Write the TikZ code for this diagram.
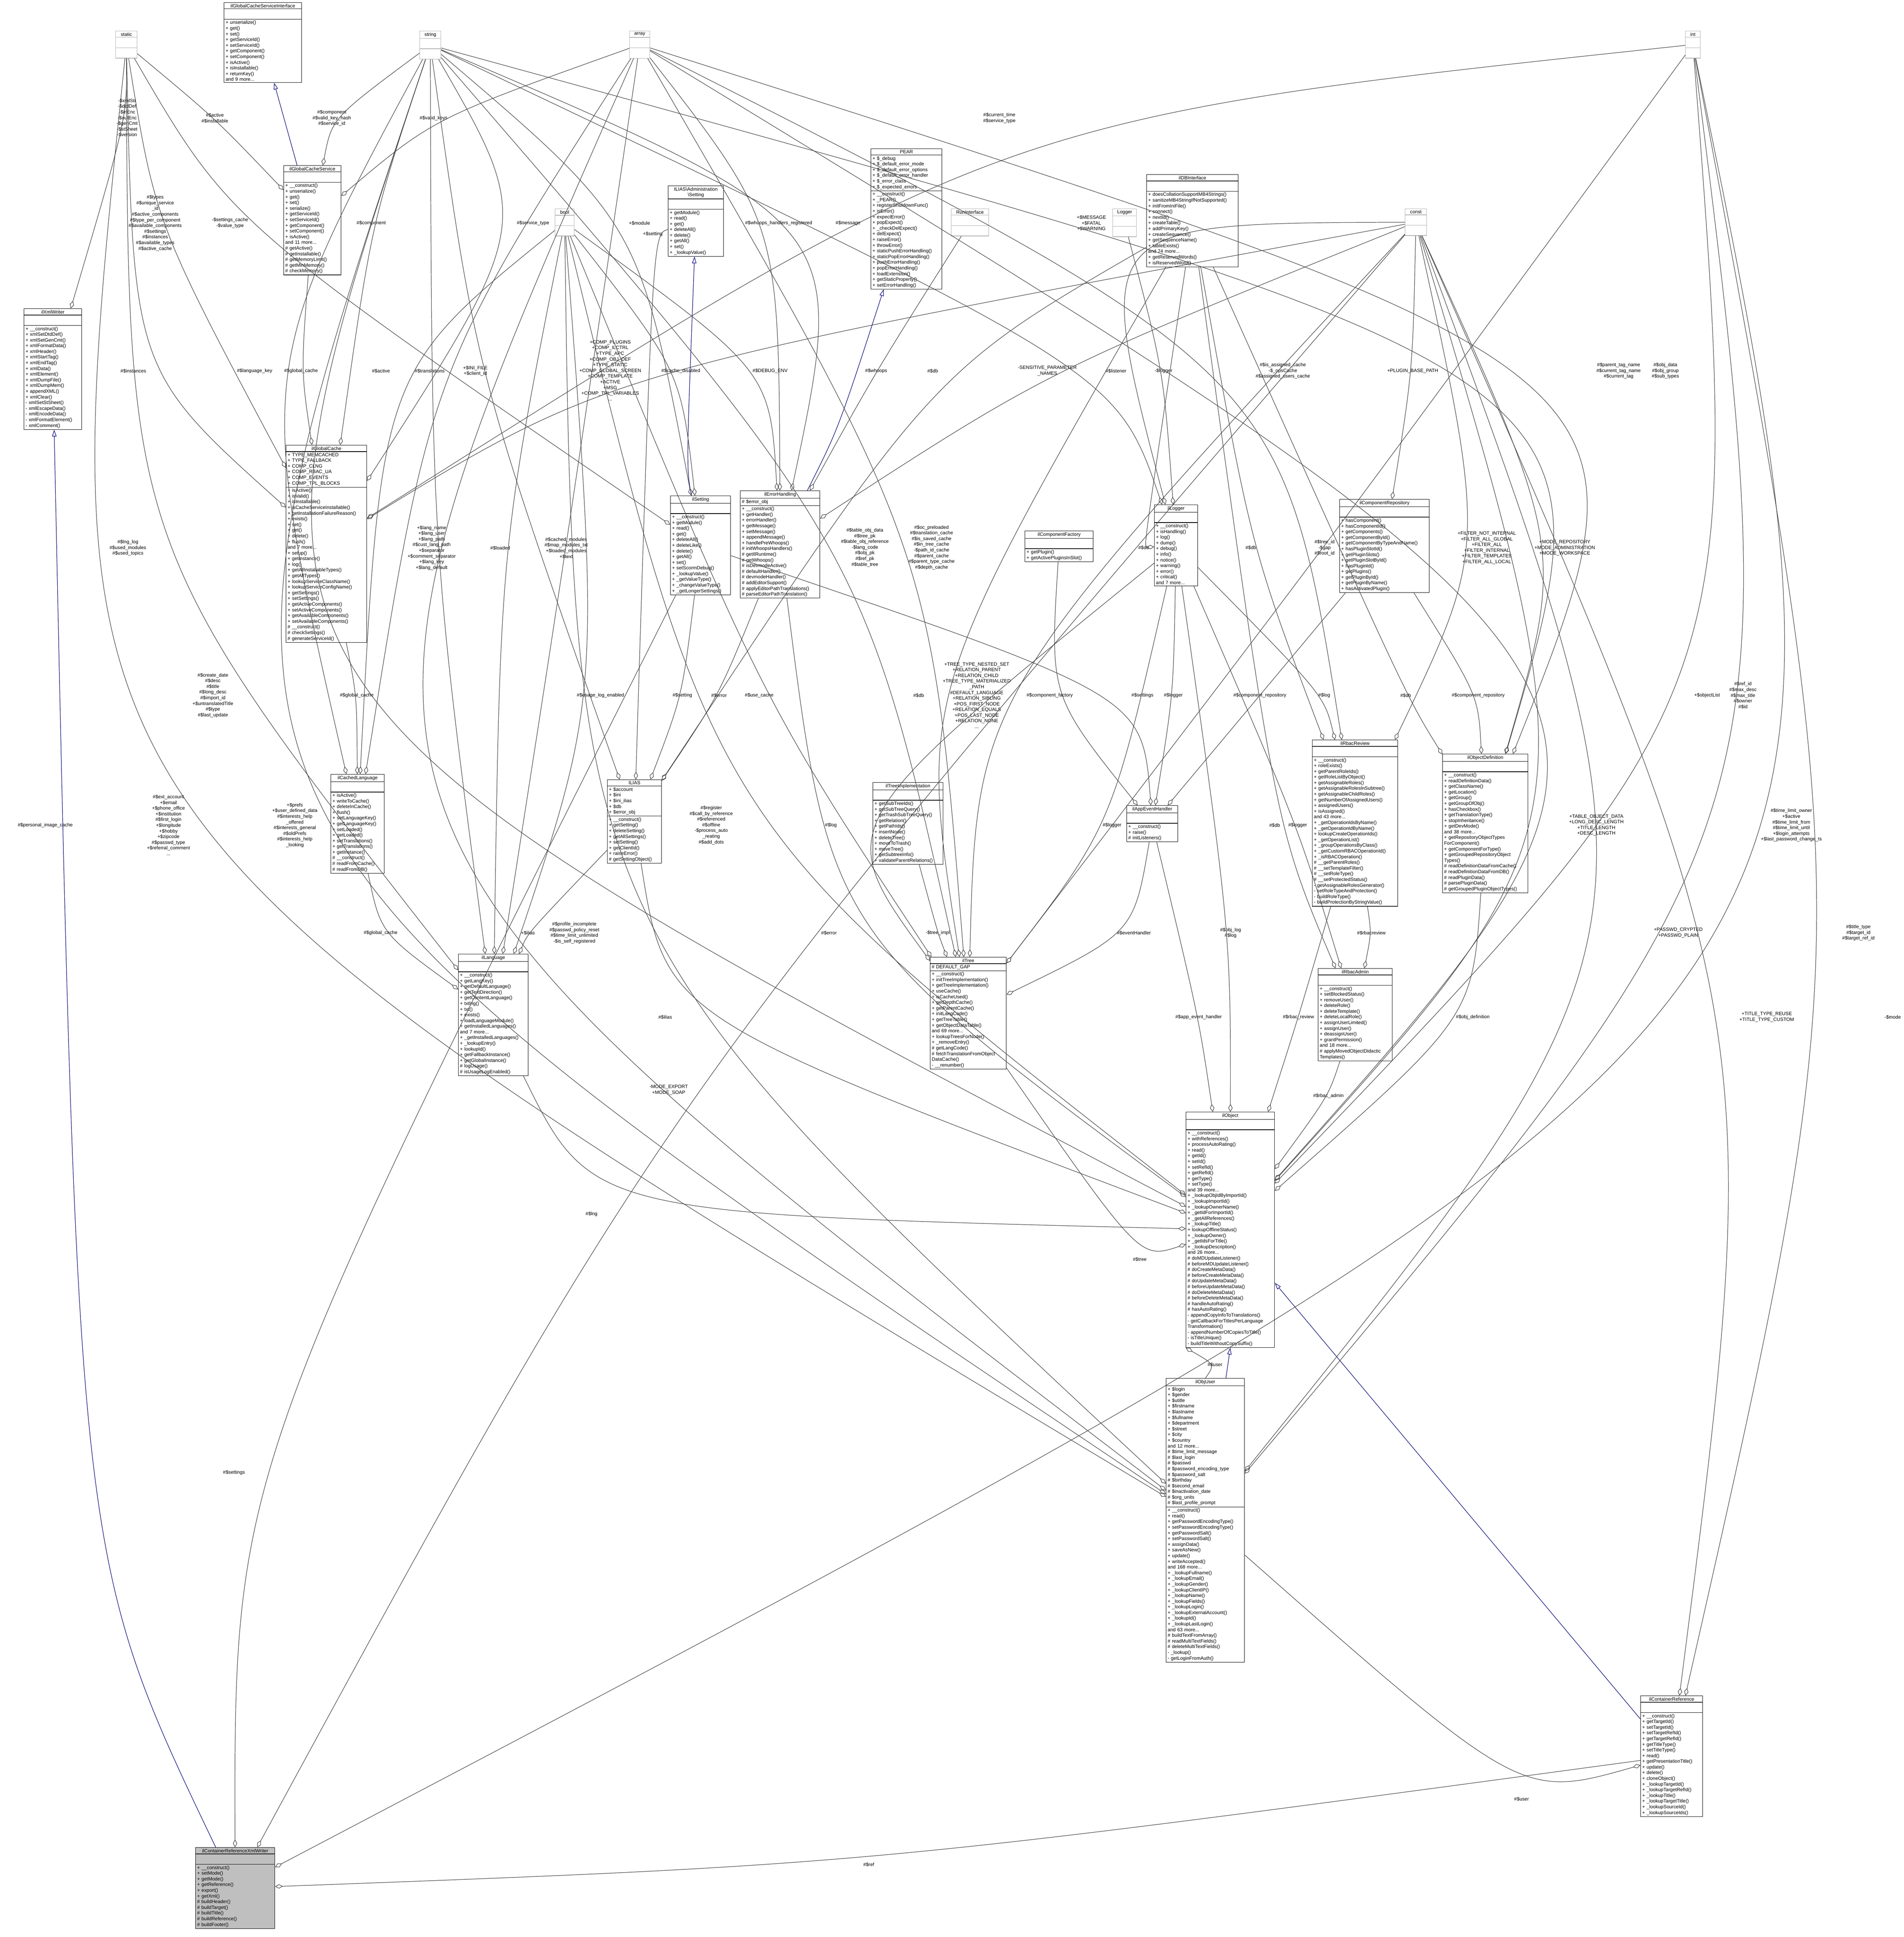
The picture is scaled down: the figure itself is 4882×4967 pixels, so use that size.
\documentclass[tikz,border=0pt]{standalone}
\usepackage{fontspec}
\setmainfont{Liberation Sans}
\usetikzlibrary{shapes.multipart,arrows.meta}

\tikzset{
  umlbox/.style={rectangle split, rectangle split parts=3, draw=black, line width=0.35pt,
    anchor=north west, align=left, inner xsep=0.04cm, inner ysep=0.03cm,
    font=\fontsize{3.5}{4.15}\selectfont},
  typebox/.style={rectangle split, rectangle split parts=3, draw=black!30, line width=0.35pt,
    anchor=north west, align=center, inner xsep=0.03cm, inner ysep=0.03cm,
    font=\fontsize{3.5}{4.15}\selectfont},
  lbl/.style={align=center, inner sep=0pt, font=\fontsize{3.5}{4.15}\selectfont},
  agg/.style={draw=black!75, line width=0.35pt, {Diamond[open,length=0.2cm,width=0.11cm]}-},
  inh/.style={draw=blue!45!black, line width=0.35pt, {Triangle[open,length=0.17cm,width=0.11cm]}-}
}
\newcommand{\emp}{\rule[-1pt]{0pt}{5.5pt}}
\newcommand{\ttl}[1]{\makebox[\linewidth][c]{#1}}

\begin{document}
\begin{tikzpicture}[x=0.01cm, y=-0.01cm]
\useasboundingbox (0,0) rectangle (4882,4967);

% plain types
\node (static) [typebox, text width=0.49cm] at (296,79) {static\nodepart{two}\emp\nodepart{three}\emp};
\node (string) [typebox, text width=0.48cm] at (1076,79) {string\nodepart{two}\emp\nodepart{three}\emp};
\node (array) [typebox, text width=0.46cm] at (1614,79) {array\nodepart{two}\emp\nodepart{three}\emp};
\node (int) [typebox, text width=0.32cm] at (4322,79) {int\nodepart{two}\emp\nodepart{three}\emp};
\node (bool) [typebox, text width=0.43cm] at (1423,535) {bool\nodepart{two}\emp\nodepart{three}\emp};
\node (runif) [typebox, text width=0.90cm] at (2439,535) {RunInterface\nodepart{two}\emp\nodepart{three}\emp};
\node (logger) [typebox, text width=0.55cm] at (2853,535) {Logger\nodepart{two}\emp\nodepart{three}\emp};
\node (const) [typebox, text width=0.49cm] at (3603,535) {const\nodepart{two}\emp\nodepart{three}\emp};

% classes
\node (gcsif) [umlbox, text width=1.91cm] at (574,6) {\ttl{ilGlobalCacheServiceInterface}\nodepart{two}\emp\nodepart{three}
+ unserialize()\\+ get()\\+ set()\\+ getServiceId()\\+ setServiceId()\\+ getComponent()\\+ setComponent()\\+ isActive()\\+ isInstallable()\\+ returnKey()\\and 9 more...};

\node (gcs) [umlbox, text width=1.39cm] at (727,424) {\ttl{ilGlobalCacheService}\nodepart{two}\emp\nodepart{three}
+ \_\_construct()\\+ unserialize()\\+ get()\\+ set()\\+ serialize()\\+ getServiceId()\\+ setServiceId()\\+ getComponent()\\+ setComponent()\\+ isActive()\\and 11 more...\\\# getActive()\\\# getInstallable()\\\# getMemoryLimit()\\\# getMinMemory()\\\# checkMemory()};

\node (xmlw) [umlbox, text width=1.40cm] at (61,791) {\ttl{ilXmlWriter}\nodepart{two}\emp\nodepart{three}
+ \_\_construct()\\+ xmlSetDtdDef()\\+ xmlSetGenCmt()\\+ xmlFormatData()\\+ xmlHeader()\\+ xmlStartTag()\\+ xmlEndTag()\\+ xmlData()\\+ xmlElement()\\+ xmlDumpFile()\\+ xmlDumpMem()\\+ appendXML()\\+ xmlClear()\\- xmlSetStSheet()\\- xmlEscapeData()\\- xmlEncodeData()\\- xmlFormatElement()\\- xmlComment()};

\node (gcache) [umlbox, text width=1.99cm] at (733,1141) {\ttl{ilGlobalCache}\nodepart{two}
+ TYPE\_MEMCACHED\\+ TYPE\_FALLBACK\\+ COMP\_CLNG\\+ COMP\_RBAC\_UA\\+ COMP\_EVENTS\\+ COMP\_TPL\_BLOCKS\nodepart{three}
+ isActive()\\+ isValid()\\+ isInstallable()\\+ isCacheServiceInstallable()\\+ getInstallationFailureReason()\\+ exists()\\+ set()\\+ get()\\+ delete()\\+ flush()\\and 7 more...\\+ setup()\\+ getInstance()\\+ log()\\+ getAllInstallableTypes()\\+ getAllTypes()\\+ lookupServiceClassName()\\+ lookupServiceConfigName()\\+ getSettings()\\+ setSettings()\\+ getActiveComponents()\\+ setActiveComponents()\\+ getAvailableComponents()\\+ setAvailableComponents()\\\# \_\_construct()\\\# checkSettings()\\\# generateServiceId()};

\node (clang) [umlbox, text width=1.29cm] at (848,1985) {\ttl{ilCachedLanguage}\nodepart{two}\emp\nodepart{three}
+ isActive()\\+ writeToCache()\\+ deleteInCache()\\+ flush()\\+ setLanguageKey()\\+ getLanguageKey()\\+ setLoaded()\\+ getLoaded()\\+ setTranslations()\\+ getTranslations()\\+ getInstance()\\\# \_\_construct()\\\# readFromCache()\\\# readFromDB()};

\node (lang) [umlbox, text width=1.71cm] at (1175,2446) {\ttl{ilLanguage}\nodepart{two}\emp\nodepart{three}
+ \_\_construct()\\+ getLangKey()\\+ getDefaultLanguage()\\+ getTextDirection()\\+ getContentLanguage()\\+ txtlng()\\+ txt()\\+ exists()\\+ loadLanguageModule()\\+ getInstalledLanguages()\\and 7 more...\\+ \_getInstalledLanguages()\\+ \_lookupEntry()\\+ lookupId()\\+ getFallbackInstance()\\+ getGlobalInstance()\\\# logUsage()\\\# isUsageLogEnabled()};

\node (ilias) [umlbox, text width=1.31cm] at (1557,1999) {\ttl{ILIAS}\nodepart{two}
+ \$account\\+ \$ini\\+ \$ini\_ilias\\+ \$db\\+ \$error\_obj\nodepart{three}
+ \_\_construct()\\+ getSetting()\\+ deleteSetting()\\+ getAllSettings()\\+ setSetting()\\+ getClientId()\\+ raiseError()\\\# getSettingObject()};

\node (admset) [umlbox, text width=1.34cm] at (1713,476) {\ttl{ILIAS\textbackslash Administration}\\\ttl{\textbackslash Setting}\nodepart{two}\emp\nodepart{three}
+ getModule()\\+ read()\\+ get()\\+ deleteAll()\\+ delete()\\+ getAll()\\+ set()\\+ \_lookupValue()};

\node (pear) [umlbox, text width=1.74cm] at (2233,381) {\ttl{PEAR}\nodepart{two}
+ \$\_debug\\+ \$\_default\_error\_mode\\+ \$\_default\_error\_options\\+ \$\_default\_error\_handler\\+ \$\_error\_class\\+ \$\_expected\_errors\nodepart{three}
+ \_\_construct()\\+ \_PEAR()\\+ registerShutdownFunc()\\+ isError()\\+ expectError()\\+ popExpect()\\+ \_checkDelExpect()\\+ delExpect()\\+ raiseError()\\+ throwError()\\+ staticPushErrorHandling()\\+ staticPopErrorHandling()\\+ pushErrorHandling()\\+ popErrorHandling()\\+ loadExtension()\\+ getStaticProperty()\\+ setErrorHandling()};

\node (dbif) [umlbox, text width=2.27cm] at (2940,447) {\ttl{ilDBInterface}\nodepart{two}\emp\nodepart{three}
+ doesCollationSupportMB4Strings()\\+ sanitizeMB4StringIfNotSupported()\\+ initFromIniFile()\\+ connect()\\+ nextId()\\+ createTable()\\+ addPrimaryKey()\\+ createSequence()\\+ getSequenceName()\\+ tableExists()\\and 74 more...\\+ getReservedWords()\\+ isReservedWord()};

\node (setting) [umlbox, text width=1.46cm] at (1719,1271) {\ttl{ilSetting}\nodepart{two}\emp\nodepart{three}
+ \_\_construct()\\+ getModule()\\+ read()\\+ get()\\+ deleteAll()\\+ deleteLike()\\+ delete()\\+ getAll()\\+ set()\\+ setScormDebug()\\+ \_lookupValue()\\+ \_getValueType()\\+ \_changeValueType()\\+ \_getLongerSettings()};

\node (errh) [umlbox, text width=1.96cm] at (1898,1258) {\ttl{ilErrorHandling}\nodepart{two}
\# \$error\_obj\nodepart{three}
+ \_\_construct()\\+ getHandler()\\+ errorHandler()\\+ getMessage()\\+ setMessage()\\+ appendMessage()\\+ handlePreWhoops()\\\# initWhoopsHandlers()\\\# getIlRuntime()\\\# getWhoops()\\\# isDevmodeActive()\\\# defaultHandler()\\\# devmodeHandler()\\\# addEditorSupport()\\\# applyEditorPathTranslations()\\\# parseEditorPathTranslation()};

\node (cfact) [umlbox, text width=1.67cm] at (2628,1361) {\ttl{ilComponentFactory}\nodepart{two}\emp\nodepart{three}
+ getPlugin()\\+ getActivePluginsInSlot()};

\node (ilogger) [umlbox, text width=1.03cm] at (2960,1294) {\ttl{ilLogger}\nodepart{two}\emp\nodepart{three}
+ \_\_construct()\\+ isHandling()\\+ log()\\+ dump()\\+ debug()\\+ info()\\+ notice()\\+ warning()\\+ error()\\+ critical()\\and 7 more...};

\node (timpl) [umlbox, text width=1.72cm] at (2238,2006) {\ttl{ilTreeImplementation}\nodepart{two}\emp\nodepart{three}
+ getSubTreeIds()\\+ getSubTreeQuery()\\+ getTrashSubTreeQuery()\\+ getRelation()\\+ getPathIds()\\+ insertNode()\\+ deleteTree()\\+ moveToTrash()\\+ moveTree()\\+ getSubtreeInfo()\\+ validateParentRelations()};

\node (appev) [umlbox, text width=1.23cm] at (2889,2065) {\ttl{ilAppEventHandler}\nodepart{two}\emp\nodepart{three}
+ \_\_construct()\\+ raise()\\\# initListeners()};

\node (tree) [umlbox, text width=1.87cm] at (2385,2454) {\ttl{ilTree}\nodepart{two}
\# DEFAULT\_GAP\nodepart{three}
+ \_\_construct()\\+ initTreeImplementation()\\+ getTreeImplementation()\\+ useCache()\\+ isCacheUsed()\\+ getDepthCache()\\+ getParentCache()\\+ initLangCode()\\+ getTreeTable()\\+ getObjectDataTable()\\and 69 more...\\+ lookupTreesForNode()\\+ \_removeEntry()\\\# getLangCode()\\\# fetchTranslationFromObject\\DataCache()\\- \_\_renumber()};

\node (crepo) [umlbox, text width=2.22cm] at (3435,1280) {\ttl{ilComponentRepository}\nodepart{two}\emp\nodepart{three}
+ hasComponent()\\+ hasComponentId()\\+ getComponents()\\+ getComponentById()\\+ getComponentByTypeAndName()\\+ hasPluginSlotId()\\+ getPluginSlots()\\+ getPluginSlotById()\\+ hasPluginId()\\+ getPlugins()\\+ getPluginById()\\+ getPluginByName()\\+ hasActivatedPlugin()};

\node (rbrev) [umlbox, text width=2.11cm] at (3365,1897) {\ttl{ilRbacReview}\nodepart{two}\emp\nodepart{three}
+ \_\_construct()\\+ roleExists()\\+ getParentRoleIds()\\+ getRoleListByObject()\\+ getAssignableRoles()\\+ getAssignableRolesInSubtree()\\+ getAssignableChildRoles()\\+ getNumberOfAssignedUsers()\\+ assignedUsers()\\+ isAssigned()\\and 43 more...\\+ \_getOperationIdsByName()\\+ \_getOperationIdByName()\\+ lookupCreateOperationIds()\\+ \_getOperationList()\\+ \_groupOperationsByClass()\\+ \_getCustomRBACOperationId()\\+ \_isRBACOperation()\\\# \_\_getParentRoles()\\\# \_\_setTemplateFilter()\\\# \_\_setRoleType()\\\# \_\_setProtectedStatus()\\- getAssignableRolesGenerator()\\- setRoleTypeAndProtection()\\- buildRoleType()\\- buildProtectionByStringValue()};

\node (objdef) [umlbox, text width=2.11cm] at (3699,1933) {\ttl{ilObjectDefinition}\nodepart{two}\emp\nodepart{three}
+ \_\_construct()\\+ readDefinitionData()\\+ getClassName()\\+ getLocation()\\+ getGroup()\\+ getGroupOfObj()\\+ hasCheckbox()\\+ getTranslationType()\\+ stopInheritance()\\+ getDevMode()\\and 38 more...\\+ getRepositoryObjectTypes\\ForComponent()\\+ getComponentForType()\\+ getGroupedRepositoryObject\\Types()\\\# readDefinitionDataFromCache()\\\# readDefinitionDataFromDB()\\\# readPluginData()\\\# parsePluginData()\\\# getGroupedPluginObjectTypes()};

\node (rbadm) [umlbox, text width=1.82cm] at (3380,2483) {\ttl{ilRbacAdmin}\nodepart{two}\emp\nodepart{three}
+ \_\_construct()\\+ setBlockedStatus()\\+ removeUser()\\+ deleteRole()\\+ deleteTemplate()\\+ deleteLocalRole()\\+ assignUserLimited()\\+ assignUser()\\+ deassignUser()\\+ grantPermission()\\and 18 more...\\\# applyMovedObjectDidactic\\Templates()};

\node (obj) [umlbox, text width=2.19cm] at (3041,2851) {\ttl{ilObject}\nodepart{two}\emp\nodepart{three}
+ \_\_construct()\\+ withReferences()\\+ processAutoRating()\\+ read()\\+ getId()\\+ setId()\\+ setRefId()\\+ getRefId()\\+ getType()\\+ setType()\\and 39 more...\\+ \_lookupObjIdByImportId()\\+ \_lookupImportId()\\+ \_lookupOwnerName()\\+ \_getIdForImportId()\\+ \_getAllReferences()\\+ \_lookupTitle()\\+ lookupOfflineStatus()\\+ \_lookupOwner()\\+ \_getIdsForTitle()\\+ \_lookupDescription()\\and 26 more...\\\# doMDUpdateListener()\\\# beforeMDUpdateListener()\\\# doCreateMetaData()\\\# beforeCreateMetaData()\\\# doUpdateMetaData()\\\# beforeUpdateMetaData()\\\# doDeleteMetaData()\\\# beforeDeleteMetaData()\\\# handleAutoRating()\\\# hasAutoRating()\\- appendCopyInfoToTranslations()\\- getCallbackForTitlesPerLanguage\\Transformation()\\- appendNumberOfCopiesToTitle()\\- isTitleUnique()\\- buildTitleWithoutCopySuffix()};

\node (objuser) [umlbox, text width=1.93cm] at (2990,3534) {\ttl{ilObjUser}\nodepart{two}
+ \$login\\+ \$gender\\+ \$utitle\\+ \$firstname\\+ \$lastname\\+ \$fullname\\+ \$department\\+ \$street\\+ \$city\\+ \$country\\and 12 more...\\\# \$time\_limit\_message\\\# \$last\_login\\\# \$passwd\\\# \$password\_encoding\_type\\\# \$password\_salt\\\# \$birthday\\\# \$second\_email\\\# \$inactivation\_date\\\# \$org\_units\\\# \$last\_profile\_prompt\nodepart{three}
+ \_\_construct()\\+ read()\\+ getPasswordEncodingType()\\+ setPasswordEncodingType()\\+ getPasswordSalt()\\+ setPasswordSalt()\\+ assignData()\\+ saveAsNew()\\+ update()\\+ writeAccepted()\\and 168 more...\\+ \_lookupFullname()\\+ \_lookupEmail()\\+ \_lookupGender()\\+ \_lookupClientIP()\\+ \_lookupName()\\+ \_lookupFields()\\+ \_lookupLogin()\\+ \_lookupExternalAccount()\\+ \_lookupId()\\+ \_lookupLastLogin()\\and 63 more...\\\# buildTextFromArray()\\\# readMultiTextFields()\\\# deleteMultiTextFields()\\- \_lookup()\\- getLoginFromAuth()};

\node (cref) [umlbox, text width=1.51cm] at (4207,4348) {\ttl{ilContainerReference}\nodepart{two}\emp\nodepart{three}
+ \_\_construct()\\+ getTargetId()\\+ setTargetId()\\+ setTargetRefId()\\+ getTargetRefId()\\+ getTitleType()\\+ setTitleType()\\+ read()\\+ getPresentationTitle()\\+ update()\\+ delete()\\+ cloneObject()\\+ \_lookupTargetId()\\+ \_lookupTargetRefId()\\+ \_lookupTitle()\\+ \_lookupTargetTitle()\\+ \_lookupSourceId()\\+ \_lookupSourceIds()};

\node (crefxml) [umlbox, text width=1.95cm, fill=black!25] at (501,4737) {\ttl{ilContainerReferenceXmlWriter}\nodepart{two}\emp\nodepart{three}
+ \_\_construct()\\+ setMode()\\+ getMode()\\+ getReference()\\+ export()\\+ getXml()\\\# buildHeader()\\\# buildTarget()\\\# buildTitle()\\\# buildReference()\\\# buildFooter()};

% connector labels
\node (lxml) [lbl] at (326,302) {-\$xmlStr\\-\$dtdDef\\-\$inEnc\\-\$outEnc\\-\$genCmt\\-\$stSheet\\-\$version};
\node (lact) [lbl] at (551,303) {\#\$active\\\#\$installable};
\node (lcomp) [lbl] at (851,303) {\#\$component\\\#\$valid\_key\_hash\\\#\$service\_id};
\node (lvk) [lbl] at (1112,303) {\#\$valid\_keys};
\node (lcurt) [lbl] at (2563,303) {\#\$current\_time\\\#\$service\_type};
\node (ltypes) [lbl] at (398,572) {\#\$types\\\#\$unique\_service\\\_id\\\#\$active\_components\\\#\$type\_per\_component\\\#\$available\_components\\\#\$settings\\\#\$instances\\\#\$available\_types\\\#\$active\_cache};
\node (lscache) [lbl] at (590,572) {-\$settings\_cache\\-\$value\_type};
\node (lcomp2) [lbl] at (952,572) {\#\$component};
\node (lsvc) [lbl] at (1367,572) {\#\$service\_type};
\node (lmodule) [lbl] at (1640,572) {+\$module};
\node (lsetting) [lbl] at (1674,600) {+\$setting};
\node (lwhr) [lbl] at (1997,572) {\#\$whoops\_handlers\_registered};
\node (lmsg) [lbl] at (2175,572) {\#\$message};
\node (lmf) [lbl] at (2799,572) {+\$MESSAGE\\+\$FATAL\\+\$WARNING};
\node (linst) [lbl] at (342,951) {\#\$instances};
\node (llk) [lbl] at (653,951) {\#\$language\_key};
\node (lgc1) [lbl] at (772,951) {\#\$global\_cache};
\node (lactive) [lbl] at (977,951) {\#\$active};
\node (ltrans) [lbl] at (1102,951) {\#\$translations};
\node (lini) [lbl] at (1219,951) {+\$INI\_FILE\\+\$client\_id};
\node (lconst1) [lbl] at (1565,950) {+COMP\_PLUGINS\\+COMP\_ILCTRL\\+TYPE\_APC\\+COMP\_OBJ\_DEF\\+TYPE\_STATIC\\+COMP\_GLOBAL\_SCREEN\\+COMP\_TEMPLATE\\+ACTIVE\\+MSG\\+COMP\_TPL\_VARIABLES\\...};
\node (lcdis) [lbl] at (1746,951) {\#\$cache\_disabled};
\node (ldebug) [lbl] at (1975,951) {\#\$DEBUG\_ENV};
\node (lwhoops) [lbl] at (2247,951) {\#\$whoops};
\node (ldb1) [lbl] at (2392,951) {\#\$db};
\node (lsens) [lbl] at (2686,951) {-SENSITIVE\_PARAMETER\\\_NAMES};
\node (llist) [lbl] at (2862,951) {\#\$listener};
\node (llogger1) [lbl] at (2984,951) {-\$logger};
\node (lasg) [lbl] at (3290,951) {\#\$is\_assigned\_cache\\-\$\_opsCache\\\#\$assigned\_users\_cache};
\node (lplug) [lbl] at (3623,951) {+PLUGIN\_BASE\_PATH};
\node (lptag) [lbl] at (4151,951) {\#\$parent\_tag\_name\\\#\$current\_tag\_name\\\#\$current\_tag};
\node (lobjd) [lbl] at (4271,951) {\#\$obj\_data\\\#\$obj\_group\\\#\$sub\_types};
\node (llng) [lbl] at (328,1405) {\#\$lng\_log\\\#\$used\_modules\\\#\$used\_topics};
\node (llang) [lbl] at (1107,1405) {+\$lang\_name\\+\$lang\_user\\+\$lang\_path\\\#\$cust\_lang\_path\\+\$separator\\+\$comment\_separator\\+\$lang\_key\\+\$lang\_default};
\node (lloaded) [lbl] at (1283,1405) {\#\$loaded};
\node (lcached) [lbl] at (1452,1405) {\#\$cached\_modules\\\#\$map\_modules\_txt\\+\$loaded\_modules\\+\$text};
\node (ltod) [lbl] at (2218,1404) {\#\$table\_obj\_data\\\#\$tree\_pk\\\#\$table\_obj\_reference\\-\$lang\_code\\\#\$obj\_pk\\\#\$ref\_pk\\\#\$table\_tree};
\node (locp) [lbl] at (2389,1404) {\#\$oc\_preloaded\\\#\$translation\_cache\\\#\$is\_saved\_cache\\\#\$in\_tree\_cache\\-\$path\_id\_cache\\\#\$parent\_cache\\\#\$parent\_type\_cache\\\#\$depth\_cache};
\node (ldb2) [lbl] at (2933,1404) {\#\$db};
\node (ldb3) [lbl] at (3208,1404) {\#\$db};
\node (ltid) [lbl] at (3397,1405) {\#\$tree\_id\\-\$gap\\\#\$root\_id};
\node (lfilter) [lbl] at (3813,1405) {+FILTER\_NOT\_INTERNAL\\+FILTER\_ALL\_GLOBAL\\+FILTER\_ALL\\+FILTER\_INTERNAL\\+FILTER\_TEMPLATES\\+FILTER\_ALL\_LOCAL};
\node (lmoderep) [lbl] at (4013,1405) {+MODE\_REPOSITORY\\+MODE\_ADMINISTRATION\\+MODE\_WORKSPACE};
\node (lcreate) [lbl] at (546,1783) {\#\$create\_date\\\#\$desc\\\#\$title\\\#\$long\_desc\\\#\$import\_id\\+\$untranslatedTitle\\\#\$type\\\#\$last\_update};
\node (lgc2) [lbl] at (915,1783) {\#\$global\_cache};
\node (lusage) [lbl] at (1540,1783) {\#\$usage\_log\_enabled};
\node (lsetting2) [lbl] at (1750,1783) {\#\$setting};
\node (lerr1) [lbl] at (1844,1783) {\#\$error};
\node (lusec) [lbl] at (1947,1783) {\#\$use\_cache};
\node (ldb4) [lbl] at (2356,1783) {\#\$db};
\node (ltreec) [lbl] at (2505,1783) {+TREE\_TYPE\_NESTED\_SET\\+RELATION\_PARENT\\+RELATION\_CHILD\\+TREE\_TYPE\_MATERIALIZED\\\_PATH\\\#DEFAULT\_LANGUAGE\\+RELATION\_SIBLING\\+POS\_FIRST\_NODE\\+RELATION\_EQUALS\\+POS\_LAST\_NODE\\+RELATION\_NONE\\...};
\node (lcf) [lbl] at (2692,1783) {\#\$component\_factory};
\node (lsets) [lbl] at (2930,1783) {\#\$settings};
\node (llogger2) [lbl] at (3009,1783) {\#\$logger};
\node (lcr1) [lbl] at (3231,1783) {\#\$component\_repository};
\node (llog2) [lbl] at (3396,1783) {\#\$log};
\node (ldb6) [lbl] at (3605,1783) {\#\$db};
\node (lcr2) [lbl] at (3791,1783) {\#\$component\_repository};
\node (lobjl) [lbl] at (4378,1783) {+\$objectList};
\node (lrefid) [lbl] at (4470,1783) {\#\$ref\_id\\\#\$max\_desc\\\#\$max\_title\\\#\$owner\\\#\$id};
\node (lpers) [lbl] at (116,2116) {\#\$personal\_image\_cache};
\node (lext) [lbl] at (432,2116) {\#\$ext\_account\\+\$email\\+\$phone\_office\\+\$institution\\\#\$first\_login\\+\$longitude\\+\$hobby\\+\$zipcode\\\#\$passwd\_type\\+\$referral\_comment\\...};
\node (lprefs) [lbl] at (756,2116) {+\$prefs\\+\$user\_defined\_data\\\#\$interests\_help\\\_offered\\\#\$interests\_general\\\#\$oldPrefs\\\#\$interests\_help\\\_looking};
\node (lreg) [lbl] at (1824,2116) {\#\$register\\\#\$call\_by\_reference\\\#\$referenced\\\#\$offline\\-\$process\_auto\\\_reating\\\#\$add\_dots};
\node (llog1) [lbl] at (2131,2116) {\#\$log};
\node (llogger3) [lbl] at (2852,2116) {\#\$logger};
\node (ldb5) [lbl] at (3269,2116) {\#\$db};
\node (llogger4) [lbl] at (3328,2116) {\#\$logger};
\node (ltab) [lbl] at (4094,2116) {+TABLE\_OBJECT\_DATA\\+LONG\_DESC\_LENGTH\\+TITLE\_LENGTH\\+DESC\_LENGTH};
\node (ltlo) [lbl] at (4594,2116) {\#\$time\_limit\_owner\\+\$active\\\#\$time\_limit\_from\\\#\$time\_limit\_until\\+\$login\_attempts\\+\$last\_password\_change\_ts};
\node (lgc3) [lbl] at (976,2392) {\#\$global\_cache};
\node (lilias1) [lbl] at (1354,2392) {+\$ilias};
\node (lprof) [lbl] at (1473,2392) {\#\$profile\_incomplete\\\#\$passwd\_policy\_reset\\\#\$time\_limit\_unlimited\\-\$is\_self\_registered};
\node (lerr2) [lbl] at (2126,2392) {\#\$error};
\node (ltimpl) [lbl] at (2405,2392) {-\$tree\_impl};
\node (levh) [lbl] at (2908,2392) {\#\$eventHandler};
\node (lobjlog) [lbl] at (3156,2392) {\#\$obj\_log\\\#\$log};
\node (lrbr) [lbl] at (3517,2392) {\#\$rbacreview};
\node (lpw) [lbl] at (4304,2392) {+PASSWD\_CRYPTED\\+PASSWD\_PLAIN};
\node (ltt) [lbl] at (4766,2392) {\#\$title\_type\\\#\$target\_id\\\#\$target\_ref\_id};
\node (lilias2) [lbl] at (1706,2608) {\#\$ilias};
\node (lapp) [lbl] at (3074,2608) {\#\$app\_event\_handler};
\node (lrbrev) [lbl] at (3330,2608) {\#\$rbac\_review};
\node (lod) [lbl] at (3777,2608) {\#\$obj\_definition};
\node (ltty) [lbl] at (4531,2608) {+TITLE\_TYPE\_REUSE\\+TITLE\_TYPE\_CUSTOM};
\node (lmodeint) [lbl] at (4854,2608) {-\$mode};
\node (lmexp) [lbl] at (1715,2795) {-MODE\_EXPORT\\+MODE\_SOAP};
\node (lrbadm) [lbl] at (3407,2810) {\#\$rbac\_admin};
\node (llng2) [lbl] at (1517,3113) {\#\$lng};
\node (ltree2) [lbl] at (2923,3229) {\#\$tree};
\node (luser1) [lbl] at (3116,3499) {\#\$user};
\node (lsettings3) [lbl] at (600,3776) {\#\$settings};
\node (luser2) [lbl] at (3902,4613) {\#\$user};
\node (lref) [lbl] at (2228,4781) {\#\$ref};

% inheritance
\draw[inh] (gcsif) -- (gcs);
\draw[inh] (admset) .. controls (1760,1200) .. (setting);
\draw[inh] (pear) .. controls (2150,1100) .. (errh);
\draw[inh] (xmlw) .. controls (200,4000) .. (crefxml);
\draw[inh] (obj.south) -- (objuser);
\draw[inh] (obj) -- (cref);

% aggregations: owner first
\draw[agg] (xmlw) .. controls (lxml) .. (static);
\draw[agg] (gcs) .. controls (lact) .. (static);
\draw[agg] (gcs) .. controls (lcomp) .. (string);
\draw[agg] (gcs) .. controls (lvk) .. (array);
\draw[agg] (gcache) .. controls (lcurt) .. (int);
\draw[agg] (gcache) .. controls (ltypes) .. (static);
\draw[agg] (setting) .. controls (lscache) .. (static);
\draw[agg] (gcache) .. controls (lcomp2) .. (string);
\draw[agg] (gcache) .. controls (lsvc) .. (string);
\draw[agg] (setting) .. controls (lmodule) .. (string);
\draw[agg] (ilias) .. controls (lsetting) .. (admset);
\draw[agg] (errh) .. controls (lwhr) .. (array);
\draw[agg] (errh) .. controls (lmsg) .. (string);
\draw[agg] (ilogger) .. controls (lmf) .. (const);
\draw[agg] (gcache) .. controls (linst) .. (static);
\draw[agg] (clang) .. controls (llk) .. (string);
\draw[agg] (gcache) .. controls (lgc1) .. (gcs);
\draw[agg] (clang) .. controls (lactive) .. (bool);
\draw[agg] (clang) .. controls (ltrans) .. (array);
\draw[agg] (ilias) .. controls (lini) .. (string);
\draw[agg] (gcache) .. controls (lconst1) .. (const);
\draw[agg] (setting) .. controls (lcdis) .. (bool);
\draw[agg] (errh) .. controls (ldebug) .. (bool);
\draw[agg] (errh) .. controls (lwhoops) .. (runif);
\draw[agg] (ilias) .. controls (ldb1) .. (dbif);
\draw[agg] (errh) .. controls (lsens) .. (const);
\draw[agg] (ilogger) .. controls (llist) .. (string);
\draw[agg] (ilogger) .. controls (llogger1) .. (logger);
\draw[agg] (rbrev) .. controls (lasg) .. (array);
\draw[agg] (crepo) .. controls (lplug) .. (const);
\draw[agg] (objdef) .. controls (lptag) .. (string);
\draw[agg] (objdef) .. controls (lobjd) .. (array);
\draw[agg] (lang) .. controls (llng) .. (static);
\draw[agg] (lang) .. controls (llang) .. (string);
\draw[agg] (lang) .. controls (lloaded) .. (bool);
\draw[agg] (lang) .. controls (lcached) .. (array);
\draw[agg] (tree) .. controls (ltod) .. (string);
\draw[agg] (tree) .. controls (locp) .. (array);
\draw[agg] (ilogger) .. controls (ldb2) .. (dbif);
\draw[agg] (rbrev) .. controls (ldb3) .. (dbif);
\draw[agg] (tree) .. controls (ltid) .. (int);
\draw[agg] (rbrev) .. controls (lfilter) .. (const);
\draw[agg] (objdef) .. controls (lmoderep) .. (const);
\draw[agg] (obj) .. controls (lcreate) .. (string);
\draw[agg] (clang) .. controls (lgc2) .. (gcache);
\draw[agg] (lang) .. controls (lusage) .. (bool);
\draw[agg] (ilias) .. controls (lsetting2) .. (setting);
\draw[agg] (ilias) .. controls (lerr1) .. (errh);
\draw[agg] (tree) .. controls (lusec) .. (bool);
\draw[agg] (tree) .. controls (ldb4) .. (dbif);
\draw[agg] (tree) .. controls (ltreec) .. (const);
\draw[agg] (appev) .. controls (lcf) .. (cfact);
\draw[agg] (appev) .. controls (lsets) .. (setting);
\draw[agg] (appev) .. controls (llogger2) .. (ilogger);
\draw[agg] (appev) .. controls (lcr1) .. (crepo);
\draw[agg] (rbrev) .. controls (llog2) .. (ilogger);
\draw[agg] (objdef) .. controls (ldb6) .. (dbif);
\draw[agg] (objdef) .. controls (lcr2) .. (crepo);
\draw[agg] (obj) .. controls (lobjl) .. (array);
\draw[agg] (obj) .. controls (lrefid) .. (int);
\draw[agg] (objuser) .. controls (lpers) .. (static);
\draw[agg] (objuser) .. controls (lext) .. (string);
\draw[agg] (objuser) .. controls (lprefs) .. (array);
\draw[agg] (obj) .. controls (lreg) .. (bool);
\draw[agg] (tree) .. controls (llog1) .. (ilogger);
\draw[agg] (tree) .. controls (llogger3) .. (ilogger);
\draw[agg] (rbadm) .. controls (ldb5) .. (dbif);
\draw[agg] (rbadm) .. controls (llogger4) .. (ilogger);
\draw[agg] (obj) .. controls (ltab) .. (const);
\draw[agg] (objuser) .. controls (ltlo) .. (int);
\draw[agg] (lang) .. controls (lgc3) .. (clang);
\draw[agg] (lang) .. controls (lilias1) .. (ilias);
\draw[agg] (objuser) .. controls (lprof) .. (bool);
\draw[agg] (obj) .. controls (lerr2) .. (errh);
\draw[agg] (tree) .. controls (ltimpl) .. (timpl);
\draw[agg] (tree) .. controls (levh) .. (appev);
\draw[agg] (obj) .. controls (lobjlog) .. (ilogger);
\draw[agg] (rbadm) .. controls (lrbr) .. (rbrev);
\draw[agg] (objuser) .. controls (lpw) .. (const);
\draw[agg] (cref) .. controls (ltt) .. (int);
\draw[agg] (obj) .. controls (lilias2) .. (ilias);
\draw[agg] (obj) .. controls (lapp) .. (appev);
\draw[agg] (obj) .. controls (lrbrev) .. (rbrev);
\draw[agg] (obj) .. controls (lod) .. (objdef);
\draw[agg] (cref) .. controls (ltty) .. (const);
\draw[agg] (crefxml) .. controls (lmodeint) .. (int);
\draw[agg] (crefxml) .. controls (lmexp) .. (const);
\draw[agg] (obj) .. controls (lrbadm) .. (rbadm);
\draw[agg] (obj) .. controls (llng2) .. (lang);
\draw[agg] (obj) .. controls (ltree2) .. (tree);
\draw[agg] (obj.south west) .. controls (luser1) .. (objuser.north);
\draw[agg] (crefxml) .. controls (lsettings3) .. (setting);
\draw[agg] (cref) .. controls (luser2) .. (objuser);
\draw[agg] (crefxml) .. controls (lref) .. (cref);
\end{tikzpicture}
\end{document}
